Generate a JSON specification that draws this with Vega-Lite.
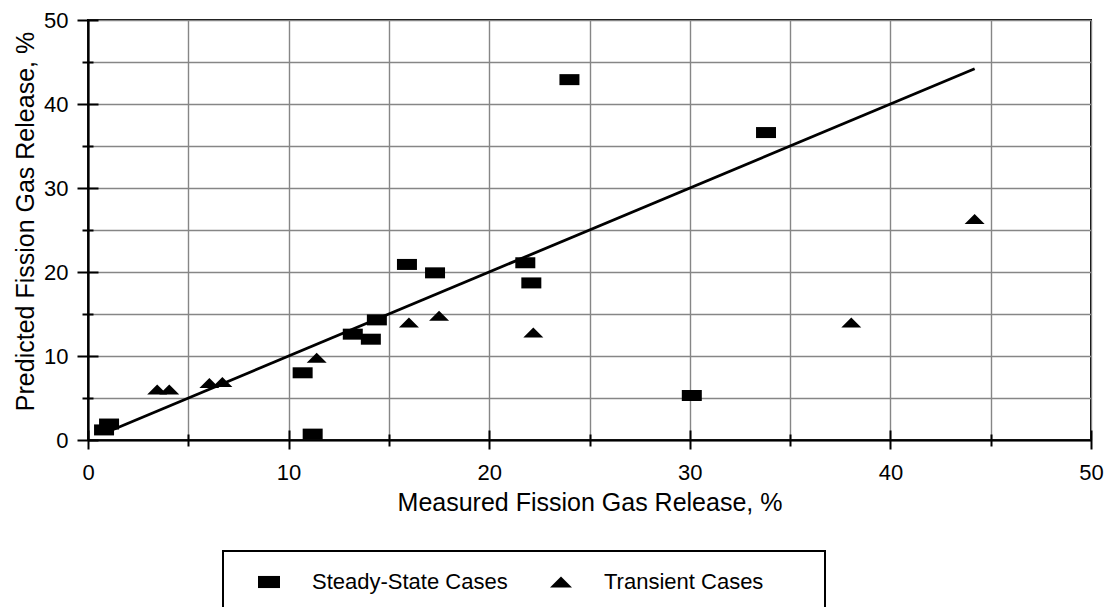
{
  "$schema": "https://vega.github.io/schema/vega-lite/v6.json",
  "width": 1003,
  "height": 420,
  "autosize": {"type": "none"},
  "padding": {"left": 88, "top": 20, "right": 18, "bottom": 167},
  "background": "white",
  "config": {
    "font": "Liberation Sans",
    "view": {"stroke": "black", "strokeWidth": 2},
    "axis": {"labelColor": "black", "titleColor": "black", "titleFontWeight": "normal", "labelFlush": false, "labelOverlap": false},
    "legend": {"strokeWidth": 2}
  },
  "datasets": {
    "cases": [
      {"measured": 0.8, "predicted": 1.2, "case": "Steady-State Cases"},
      {"measured": 1.05, "predicted": 1.9, "case": "Steady-State Cases"},
      {"measured": 10.7, "predicted": 8.0, "case": "Steady-State Cases"},
      {"measured": 11.2, "predicted": 0.7, "case": "Steady-State Cases"},
      {"measured": 13.2, "predicted": 12.6, "case": "Steady-State Cases"},
      {"measured": 14.1, "predicted": 12.0, "case": "Steady-State Cases"},
      {"measured": 14.4, "predicted": 14.3, "case": "Steady-State Cases"},
      {"measured": 15.9, "predicted": 20.9, "case": "Steady-State Cases"},
      {"measured": 17.3, "predicted": 19.9, "case": "Steady-State Cases"},
      {"measured": 21.8, "predicted": 21.1, "case": "Steady-State Cases"},
      {"measured": 22.1, "predicted": 18.7, "case": "Steady-State Cases"},
      {"measured": 24.0, "predicted": 42.9, "case": "Steady-State Cases"},
      {"measured": 30.1, "predicted": 5.3, "case": "Steady-State Cases"},
      {"measured": 33.8, "predicted": 36.6, "case": "Steady-State Cases"},
      {"measured": 3.45, "predicted": 6.0, "case": "Transient Cases"},
      {"measured": 4.05, "predicted": 6.0, "case": "Transient Cases"},
      {"measured": 6.05, "predicted": 6.8, "case": "Transient Cases"},
      {"measured": 6.7, "predicted": 6.9, "case": "Transient Cases"},
      {"measured": 11.4, "predicted": 9.8, "case": "Transient Cases"},
      {"measured": 16.0, "predicted": 14.0, "case": "Transient Cases"},
      {"measured": 17.5, "predicted": 14.8, "case": "Transient Cases"},
      {"measured": 22.2, "predicted": 12.8, "case": "Transient Cases"},
      {"measured": 38.05, "predicted": 14.0, "case": "Transient Cases"},
      {"measured": 44.2, "predicted": 26.3, "case": "Transient Cases"}
    ],
    "parity": [
      {"measured": 1.2, "predicted": 1.2},
      {"measured": 44.2, "predicted": 44.2}
    ]
  },
  "layer": [
    {
      "data": {"name": "parity"},
      "mark": {"type": "line", "color": "black", "strokeWidth": 2.8},
      "encoding": {
        "x": {
          "field": "measured", "type": "quantitative",
          "scale": {"domain": [0, 50], "nice": false, "zero": true},
          "axis": {
            "orient": "bottom",
            "values": [0, 5, 10, 15, 20, 25, 30, 35, 40, 45, 50],
            "grid": true, "gridColor": "#868686", "gridWidth": 1.4,
            "ticks": false,
            "domain": true, "domainColor": "black", "domainWidth": 2.2,
            "labelExpr": "datum.value % 10 === 0 ? datum.label : ''",
            "labelFontSize": 22, "labelPadding": 22,
            "title": "Measured Fission Gas Release, %",
            "titleFontSize": 25, "titleY": 70, "titleBaseline": "alphabetic"
          }
        },
        "y": {
          "field": "predicted", "type": "quantitative",
          "scale": {"domain": [0, 50], "nice": false, "zero": true},
          "axis": {
            "orient": "left",
            "values": [0, 5, 10, 15, 20, 25, 30, 35, 40, 45, 50],
            "grid": true, "gridColor": "#868686", "gridWidth": 1.4,
            "ticks": false,
            "domain": true, "domainColor": "black", "domainWidth": 2.2,
            "labelExpr": "datum.value % 10 === 0 ? datum.label : ''",
            "labelFontSize": 22, "labelPadding": 20,
            "title": "Predicted Fission Gas Release, %",
            "titleFontSize": 25, "titleX": -55, "titleY": 201,
            "titleAngle": 270, "titleAlign": "center", "titleBaseline": "alphabetic"
          }
        }
      }
    },
    {
      "data": {"name": "cases"},
      "transform": [{"filter": "datum['case'] === 'Steady-State Cases'"}],
      "mark": {"type": "point", "filled": true, "color": "black", "opacity": 1, "size": 400, "strokeWidth": 0},
      "encoding": {
        "x": {
          "field": "measured", "type": "quantitative",
          "axis": {
            "orient": "bottom", "values": [0, 10, 20, 30, 40, 50],
            "ticks": true, "tickSize": 19, "offset": -10, "tickColor": "black", "tickWidth": 2,
            "labels": false, "domain": false, "grid": false, "title": null
          }
        },
        "y": {
          "field": "predicted", "type": "quantitative",
          "axis": {
            "orient": "left", "values": [0, 10, 20, 30, 40, 50],
            "ticks": true, "tickSize": 21, "offset": -10, "tickColor": "black", "tickWidth": 2,
            "labels": false, "domain": false, "grid": false, "title": null
          }
        },
        "shape": {
          "field": "case", "type": "nominal",
          "scale": {
            "domain": ["Steady-State Cases", "Transient Cases"],
            "range": ["M-1,-0.55L1,-0.55L1,0.55L-1,0.55Z", "M-1,0.5L1,0.5L0,-0.5Z"]
          },
          "legend": {
            "orient": "none", "legendX": 135, "legendY": 531,
            "direction": "horizontal", "columns": 2,
            "title": " ", "titleOrient": "right", "titlePadding": 42, "titleFontSize": 22,
            "strokeColor": "black", "padding": 20,
            "labelFontSize": 22, "labelColor": "black", "labelOffset": 32, "labelLimit": 400,
            "columnPadding": 27, "symbolSize": 484, "symbolOffset": 15,
            "symbolFillColor": "black", "symbolStrokeWidth": 0
          }
        }
      }
    },
    {
      "data": {"name": "cases"},
      "transform": [{"filter": "datum['case'] === 'Transient Cases'"}],
      "mark": {"type": "point", "filled": true, "color": "black", "opacity": 1, "size": 400, "strokeWidth": 0},
      "encoding": {
        "x": {
          "field": "measured", "type": "quantitative",
          "axis": {
            "orient": "bottom", "values": [5, 15, 25, 35, 45],
            "ticks": true, "tickSize": 12, "offset": -6, "tickColor": "black", "tickWidth": 2,
            "labels": false, "domain": false, "grid": false, "title": null
          }
        },
        "y": {
          "field": "predicted", "type": "quantitative",
          "axis": {
            "orient": "left", "values": [5, 15, 25, 35, 45],
            "ticks": true, "tickSize": 11, "offset": -5, "tickColor": "black", "tickWidth": 2,
            "labels": false, "domain": false, "grid": false, "title": null
          }
        },
        "shape": {
          "field": "case", "type": "nominal",
          "scale": {
            "domain": ["Steady-State Cases", "Transient Cases"],
            "range": ["M-1,-0.55L1,-0.55L1,0.55L-1,0.55Z", "M-1,0.5L1,0.5L0,-0.5Z"]
          },
          "legend": {
            "orient": "none", "legendX": 135, "legendY": 531,
            "direction": "horizontal", "columns": 2,
            "title": " ", "titleOrient": "right", "titlePadding": 42, "titleFontSize": 22,
            "strokeColor": "black", "padding": 20,
            "labelFontSize": 22, "labelColor": "black", "labelOffset": 32, "labelLimit": 400,
            "columnPadding": 27, "symbolSize": 484, "symbolOffset": 15,
            "symbolFillColor": "black", "symbolStrokeWidth": 0
          }
        }
      }
    }
  ],
  "resolve": {"axis": {"x": "independent", "y": "independent"}}
}
